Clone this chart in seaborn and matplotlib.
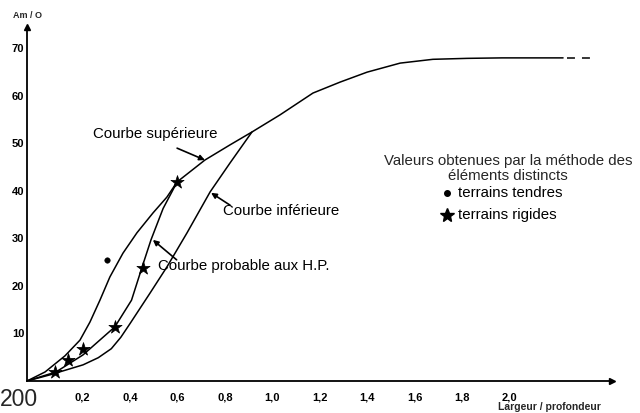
import matplotlib
matplotlib.use("Agg")
import matplotlib.pyplot as plt
import seaborn as sns

# curves (x = largeur / profondeur, y = Am / O)
upper_x = [0, 0.076, 0.16, 0.223, 0.265, 0.307, 0.349, 0.404, 0.463, 0.531, 0.589, 0.632,
           0.749, 0.855, 0.947, 1.065, 1.204, 1.318, 1.432, 1.571, 1.709, 1.853, 2.0, 2.257]
upper_y = [0, 1.9, 5.3, 8.6, 12.4, 17.0, 21.9, 26.9, 31.2, 35.4, 38.7, 41.9,
           46.5, 49.7, 52.4, 56.0, 60.6, 62.9, 65.0, 66.9, 67.7, 67.9, 68.0, 68.0]
upper_ext_x = [2.274, 2.375]
upper_ext_y = [68.0, 68.0]

probable_x = [0, 0.122, 0.236, 0.37, 0.44, 0.486, 0.522, 0.573, 0.61, 0.632]
probable_y = [0, 1.9, 5.5, 11.4, 17.0, 24.2, 29.7, 36.3, 39.8, 41.9]

lower_x = [0, 0.097, 0.236, 0.30, 0.355, 0.395, 0.434, 0.518, 0.589, 0.674, 0.771, 0.855, 0.947]
lower_y = [0, 1.3, 3.4, 4.9, 6.8, 9.2, 12.1, 18.5, 24.0, 31.2, 39.8, 45.9, 52.4]

# points from the distinct element method
rigid_x = [0.118, 0.173, 0.236, 0.37, 0.488, 0.632]
rigid_y = [1.9, 4.4, 6.7, 11.4, 23.8, 41.9]
soft_x = [0.337]
soft_y = [25.5]

x_ticks = [0.2, 0.4, 0.6, 0.8, 1.0, 1.2, 1.4, 1.6, 1.8, 2.0]
x_tick_labels = ["0,2", "0,4", "0,6", "0,8", "1,0", "1,2", "1,4", "1,6", "1,8", "2,0"]
y_ticks = [10, 20, 30, 40, 50, 60, 70]
y_tick_labels = ["10", "20", "30", "40", "50", "60", "70"]

sns.set_style("white")
plt.rcParams["font.family"] = ["Liberation Sans", "DejaVu Sans"]

fig = plt.figure(figsize=(6.4, 4.13), dpi=100)
ax = fig.add_axes([27 / 640, 32 / 413, 585 / 640, 354 / 413])

line_kw = dict(color="black", lw=1.1, sort=False, estimator=None, ax=ax)
sns.lineplot(x=upper_x, y=upper_y, **line_kw)
sns.lineplot(x=probable_x, y=probable_y, **line_kw)
sns.lineplot(x=lower_x, y=lower_y, **line_kw)
ax.plot(upper_ext_x, upper_ext_y, color="black", lw=1.1, linestyle=(0, (5.2, 4.6)))

sns.scatterplot(x=rigid_x, y=rigid_y, marker="*", s=100, color="black",
                edgecolor="black", linewidth=0.5, ax=ax, zorder=5)
sns.scatterplot(x=soft_x, y=soft_y, marker="o", s=16, color="black",
                edgecolor="black", ax=ax, zorder=5)

ax.set_xlim(0, 2.463)
ax.set_ylim(0, 74.5)
sns.despine(ax=ax)
for side in ["left", "bottom"]:
    ax.spines[side].set_linewidth(1.3)
    ax.spines[side].set_color("black")

# arrow heads on the axes
ax.plot(1, 0, ">", color="black", markersize=5, transform=ax.transAxes, clip_on=False)
ax.plot(0, 1, "^", color="black", markersize=5, transform=ax.transAxes, clip_on=False)

ax.set_xticks(x_ticks)
ax.set_xticklabels(x_tick_labels, ha="left", fontsize=8, fontweight="bold")
ax.set_yticks(y_ticks)
ax.set_yticklabels(y_tick_labels, fontsize=8, fontweight="bold")
ax.tick_params(axis="x", direction="inout", length=5, width=1, pad=6, colors="black")
ax.tick_params(axis="y", direction="inout", length=4, width=1, pad=0, colors="black")
ax.set_xlabel("")
ax.set_ylabel("")

# curve labels with arrows
fs = 10.8
txt_kw = dict(fontsize=fs, color="black", va="center", ha="left")
arr = dict(arrowstyle="-|>", color="black", lw=1.2, mutation_scale=8, shrinkA=0, shrinkB=0)

ax.text(0.278, 52.0, "Courbe supérieure", **txt_kw)
ax.annotate("", xy=(0.749, 46.5), xytext=(0.632, 49.0), arrowprops=arr)

ax.text(0.825, 35.8, "Courbe inférieure", **txt_kw)
ax.annotate("", xy=(0.775, 39.6), xytext=(0.855, 37.0), arrowprops=arr)

ax.text(0.552, 24.2, "Courbe probable aux H.P.", **txt_kw)
ax.annotate("", xy=(0.53, 29.7), xytext=(0.63, 25.5), arrowprops=arr)

# key
ax.text(2.025, 46.4, "Valeurs obtenues par la méthode des", fontsize=fs,
        ha="center", va="center")
ax.text(2.025, 43.1, "éléments distincts", fontsize=fs, ha="center", va="center")
ax.plot(1.768, 39.6, "o", color="black", markersize=4)
ax.text(1.815, 39.6, "terrains tendres", **txt_kw)
ax.plot(1.768, 35.0, "*", color="black", markersize=10)
ax.text(1.815, 35.0, "terrains rigides", **txt_kw)

fig.text(498 / 640, 1 - 407 / 413, "Largeur / profondeur", fontsize=7.5,
         fontweight="bold", ha="left", va="center")
fig.text(13 / 640, 1 - 15 / 413, "Am / O", fontsize=6.5, fontweight="bold",
         ha="left", va="center")
fig.text(0, 1 - 399 / 413, "200", fontsize=16.5, ha="left", va="center")

fig.savefig("out.png", dpi=100)
